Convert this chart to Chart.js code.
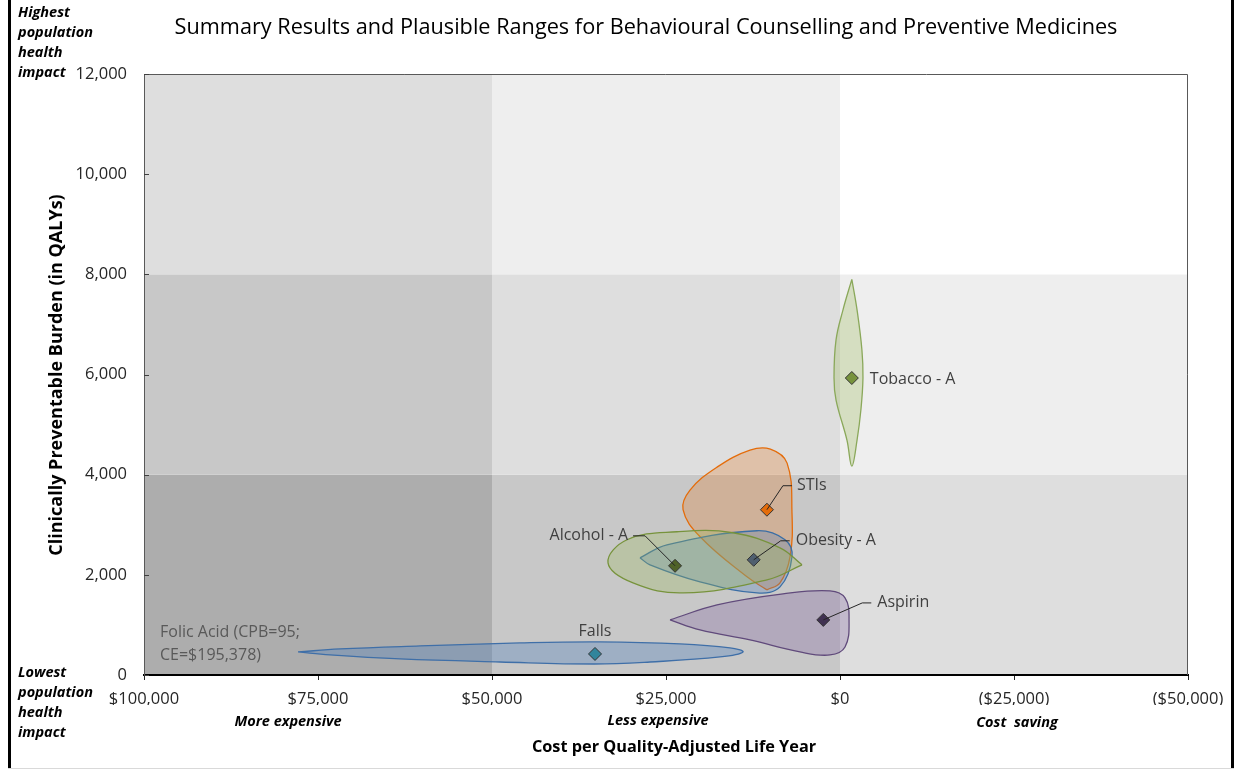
<!DOCTYPE html>
<html>
<head>
<meta charset="utf-8">
<script src="https://cdn.jsdelivr.net/npm/chart.js@4.4.1/dist/chart.umd.min.js"></script>
<style>
  html, body { margin: 0; padding: 0; background: #fff; }
  #wrap { position: relative; width: 1241px; height: 770px; }
</style>
</head>
<body>
<div id="wrap"><canvas id="rangesChart" width="1241" height="770"></canvas></div>
<script>
// Summary results (marker = point estimate)
const categories = ['Tobacco - A', 'STIs', 'Obesity - A', 'Alcohol - A', 'Aspirin', 'Falls'];
const costPerQaly = [-1700, 10500, 12400, 23700, 2400, 35200];
const preventableBurden = [5930, 3300, 2300, 2180, 1100, 420];

// Plausible ranges, outline as [cost, burden] pairs
const tobaccoRange = [[-1700, 7900], [-2450, 7290], [-3150, 6490], [-3300, 5930], [-3000, 5290], [-2450, 4690], [-1700, 4170], [-1000, 4690], [570, 5490], [860, 5930], [570, 6690], [-430, 7290], [-1700, 7900]];
const stisRange = [[10500, 1700], [13360, 1960], [20100, 2760], [22550, 3300], [21550, 3690], [17670, 4150], [12930, 4490], [10000, 4510], [7600, 4230], [6900, 3240], [7180, 2360], [8620, 1840], [10500, 1700]];
const alcoholRange = [[5460, 2200], [10490, 1900], [22560, 1640], [29740, 1840], [33330, 2240], [30600, 2700], [23420, 2860], [15370, 2840], [8620, 2540], [5460, 2200]];
const obesityRange = [[28740, 2340], [24860, 2600], [11920, 2880], [7900, 2700], [6900, 2360], [8620, 1760], [11920, 1640], [20110, 1860], [27300, 2200], [28740, 2340]];
const aspirinRange = [[24420, 1100], [17670, 1400], [8190, 1620], [1440, 1680], [-720, 1540], [-1300, 1100], [-720, 560], [1440, 400], [5750, 460], [12930, 700], [20110, 900], [24420, 1100]];
const fallsRange = [[77870, 460], [71840, 520], [60340, 580], [45980, 640], [34480, 660], [22990, 620], [15800, 540], [13940, 460], [17240, 360], [27300, 260], [35340, 220], [48850, 260], [63220, 320], [73280, 400], [77870, 460]];

// Axis ticks and shaded zone boundaries
const xTickValues = [100000, 75000, 50000, 25000, 0, -25000, -50000];
const yTickValues = [0, 2000, 4000, 6000, 8000, 10000, 12000];
const costBands = [100000, 50000, 0, -50000];
const burdenBands = [0, 4000, 8000, 12000];

const FONT = "'Open Sans', sans-serif";
const zoneShades = ['#adadad', '#c8c8c8', '#dedede', '#eeeeee', '#ffffff'];
const markerColors = ['#77933c', '#e46c0a', '#4f5f6f', '#4f6228', '#403151', '#31859c'];

function money(v) {
  const s = '$' + Math.abs(v).toLocaleString('en-US');
  return v < 0 ? '(' + s + ')' : s;
}

function rangeSet(pts, border, fill) {
  return {
    type: 'scatter',
    data: pts.map(p => ({ x: p[0], y: p[1] })),
    showLine: true,
    tension: 0.4,
    fill: 'shape',
    borderColor: border,
    backgroundColor: fill,
    borderWidth: 1.3,
    pointRadius: 0,
    order: 2
  };
}

// label placement relative to the marker (pixels)
const labelLayout = {
  'Tobacco - A': { tx: 18, ty: 1, align: 'left' },
  'STIs': { elbow: [16, -24], end: 25, tx: 30, align: 'left' },
  'Obesity - A': { elbow: [27, -19], end: 36, tx: 42, align: 'left' },
  'Alcohol - A': { elbow: [-30, -30], end: -42, tx: -47, align: 'right' },
  'Aspirin': { elbow: [39, -17], end: 48, tx: 54, align: 'left' },
  'Falls': { tx: 0, ty: -23, align: 'center' }
};

const decor = {
  id: 'decor',
  beforeDraw(chart) {
    const { ctx, scales: { x, y } } = chart;
    ctx.save();
    for (let i = 0; i < 3; i++) {
      for (let j = 0; j < 3; j++) {
        const x0 = x.getPixelForValue(costBands[i]);
        const x1 = x.getPixelForValue(costBands[i + 1]);
        const y0 = y.getPixelForValue(burdenBands[j]);
        const y1 = y.getPixelForValue(burdenBands[j + 1]);
        ctx.fillStyle = zoneShades[i + j];
        ctx.fillRect(x0, y1, x1 - x0, y0 - y1);
      }
    }
    ctx.restore();
  },
  afterDatasetsDraw(chart) {
    const { ctx } = chart;
    const meta = chart.getDatasetMeta(0);
    ctx.save();
    ctx.font = '16px ' + FONT;
    ctx.textBaseline = 'middle';
    ctx.strokeStyle = '#262626';
    ctx.lineWidth = 1;
    categories.forEach((name, i) => {
      const p = meta.data[i];
      const l = labelLayout[name];
      let ty = p.y + (l.ty || 0);
      if (l.elbow) {
        ty = p.y + l.elbow[1];
        ctx.beginPath();
        ctx.moveTo(p.x, p.y);
        ctx.lineTo(p.x + l.elbow[0], ty);
        ctx.lineTo(p.x + l.end, ty);
        ctx.stroke();
      }
      ctx.fillStyle = '#404040';
      ctx.textAlign = l.align;
      ctx.fillText(name, p.x + l.tx, ty);
    });
    // Folic acid note
    const x = chart.scales.x;
    ctx.fillStyle = '#595959';
    ctx.textAlign = 'left';
    ctx.fillText('Folic Acid (CPB=95;', x.getPixelForValue(100000) + 16, 632);
    ctx.fillText('CE=$195,378)', x.getPixelForValue(100000) + 16, 655);
    ctx.restore();
  },
  afterDraw(chart) {
    const { ctx, chartArea: a, scales: { y } } = chart;
    ctx.save();
    // plot frame top/right
    ctx.strokeStyle = '#595959';
    ctx.lineWidth = 1;
    ctx.beginPath();
    ctx.moveTo(a.left, a.top + 0.5);
    ctx.lineTo(a.right - 0.5, a.top + 0.5);
    ctx.lineTo(a.right - 0.5, a.bottom);
    ctx.stroke();
    // inside y tick marks
    ctx.strokeStyle = '#404040';
    yTickValues.forEach(v => {
      const py = Math.round(y.getPixelForValue(v)) + 0.5;
      ctx.beginPath();
      ctx.moveTo(a.left, py);
      ctx.lineTo(a.left + 5, py);
      ctx.stroke();
    });
    // outer frame of the figure
    ctx.fillStyle = '#000';
    ctx.fillRect(8, 0, 3, 768);
    ctx.fillRect(1231, 0, 3, 768);
    ctx.fillStyle = '#d9d9d9';
    ctx.fillRect(8, 768, 1226, 1);

    // title
    ctx.fillStyle = '#000';
    ctx.textBaseline = 'middle';
    ctx.textAlign = 'center';
    ctx.font = '21.7px ' + FONT;
    ctx.fillText('Summary Results and Plausible Ranges for Behavioural Counselling and Preventive Medicines', 646, 28);

    // axis titles
    ctx.font = 'bold 16.3px ' + FONT;
    ctx.fillText('Cost per Quality-Adjusted Life Year', 674, 747);
    ctx.font = 'bold 18px ' + FONT;
    ctx.save();
    ctx.translate(57, 375);
    ctx.rotate(-Math.PI / 2);
    ctx.fillText('Clinically Preventable Burden (in QALYs)', 0, 0);
    ctx.restore();

    // cost bands under x axis
    ctx.font = 'italic bold 14.5px ' + FONT;
    ctx.fillText('More expensive', 288, 722);
    ctx.fillText('Less expensive', 658, 721);
    ctx.fillText('Cost  saving', 1017, 723);

    // corner notes
    ctx.textAlign = 'left';
    ['Highest', 'population', 'health', 'impact'].forEach((t, i) => ctx.fillText(t, 18, 13 + i * 20));
    ['Lowest', 'population', 'health', 'impact'].forEach((t, i) => ctx.fillText(t, 18, 673 + i * 20));
    ctx.restore();
  }
};

const ctx = document.getElementById('rangesChart').getContext('2d');
new Chart(ctx, {
  data: {
    datasets: [
      {
        type: 'scatter',
        label: 'Summary',
        data: costPerQaly.map((c, i) => ({ x: c, y: preventableBurden[i] })),
        pointStyle: 'rectRot',
        pointRadius: 6.5,
        backgroundColor: markerColors,
        borderColor: '#333333',
        borderWidth: 1,
        order: 0
      },
      rangeSet(fallsRange, '#3f6fa8', 'rgba(79,129,189,0.35)'),
      rangeSet(aspirinRange, '#604a7b', 'rgba(128,100,162,0.3)'),
      rangeSet(alcoholRange, '#77933c', 'rgba(155,187,89,0.3)'),
      rangeSet(obesityRange, '#3a6ea5', 'rgba(79,129,189,0.3)'),
      rangeSet(stisRange, '#e46c0a', 'rgba(228,108,10,0.25)'),
      rangeSet(tobaccoRange, '#8aa85a', 'rgba(155,187,89,0.3)')
    ]
  },
  options: {
    responsive: false,
    animation: false,
    layout: { padding: { left: 54, right: 53, top: 74, bottom: 65 } },
    scales: {
      x: {
        type: 'linear',
        reverse: true,
        min: -50000,
        max: 100000,
        afterBuildTicks: s => { s.ticks = xTickValues.map(v => ({ value: v })); },
        afterFit: s => { s.height = 30; },
        grid: { display: true, drawOnChartArea: false, drawTicks: true, tickLength: 5, color: '#262626' },
        border: { display: true, color: '#000', width: 2 },
        ticks: {
          callback: v => money(v),
          font: { family: FONT, size: 16.5 },
          color: '#262626',
          padding: 9,
          maxRotation: 0
        }
      },
      y: {
        type: 'linear',
        min: 0,
        max: 12000,
        afterBuildTicks: s => { s.ticks = yTickValues.map(v => ({ value: v })); },
        afterFit: s => { s.width = 90; },
        grid: { display: false, drawTicks: false },
        border: { display: true, color: '#595959', width: 1 },
        ticks: {
          callback: v => v.toLocaleString('en-US'),
          font: { family: FONT, size: 16.5 },
          color: '#262626',
          padding: 17
        }
      }
    },
    plugins: {
      legend: { display: false },
      tooltip: { enabled: false }
    }
  },
  plugins: [decor]
});
</script>
</body>
</html>
